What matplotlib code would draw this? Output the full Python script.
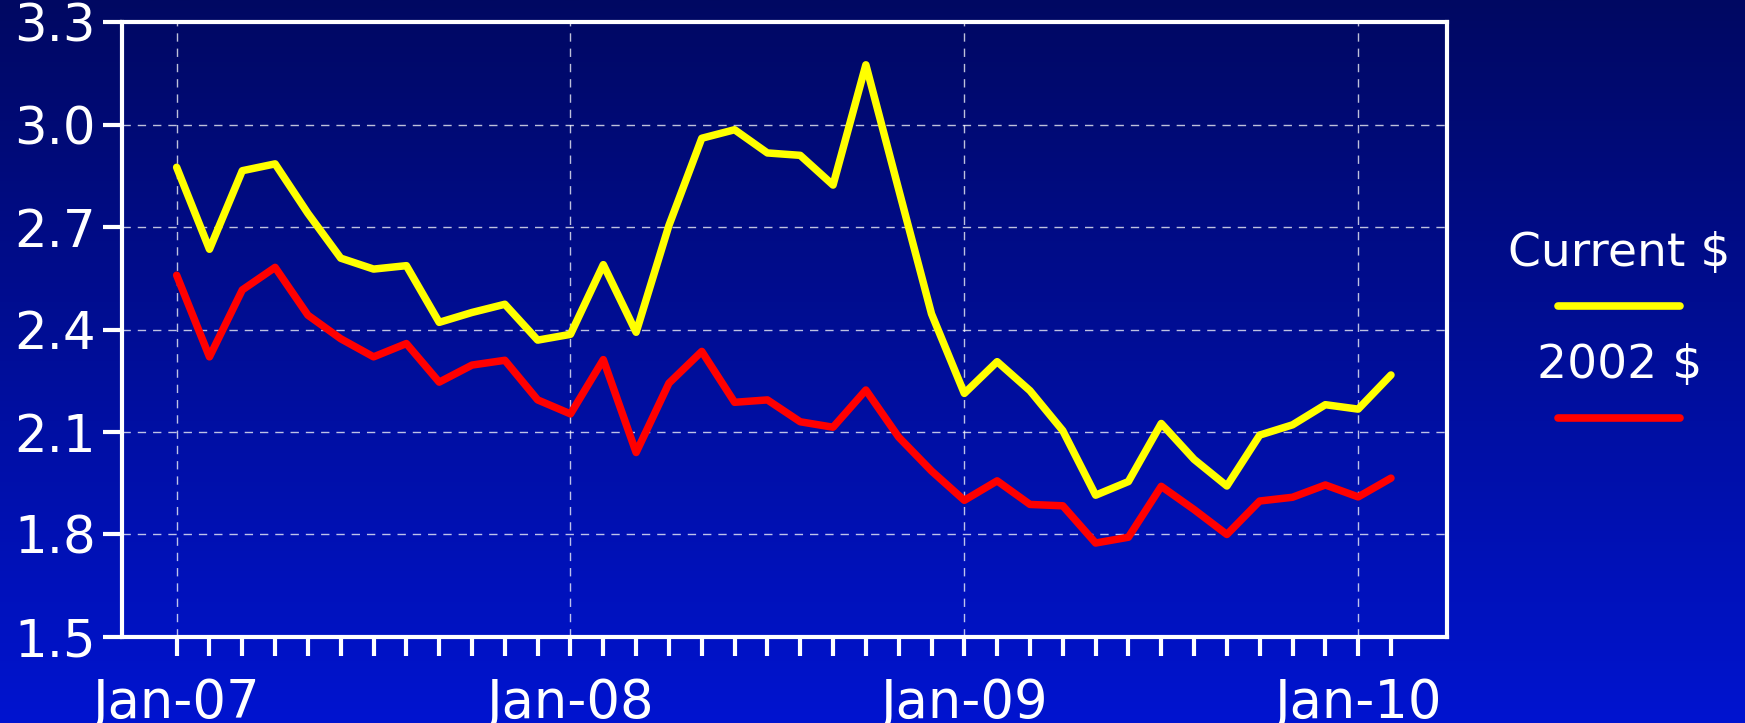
import numpy as np
import matplotlib
matplotlib.use("Agg")
import matplotlib.pyplot as plt
from matplotlib.lines import Line2D

# monthly prices, Jan-07 .. Feb-10
months = list(range(38))
current_usd = [2.875, 2.635, 2.865, 2.885, 2.74, 2.609, 2.577, 2.587, 2.421, 2.45,
               2.474, 2.369, 2.386, 2.59, 2.392, 2.705, 2.96, 2.985, 2.917, 2.91,
               2.823, 3.175, 2.81, 2.446, 2.213, 2.306, 2.221, 2.104, 1.915, 1.955,
               2.125, 2.02, 1.942, 2.091, 2.121, 2.18, 2.167, 2.267]
real_2002_usd = [2.559, 2.32, 2.516, 2.582, 2.442, 2.373, 2.32, 2.359, 2.246, 2.296,
                 2.31, 2.194, 2.153, 2.312, 2.04, 2.243, 2.336, 2.187, 2.194, 2.13,
                 2.114, 2.223, 2.085, 1.986, 1.9, 1.957, 1.888, 1.884, 1.775, 1.792,
                 1.941, 1.873, 1.8, 1.898, 1.909, 1.945, 1.91, 1.965]
year_ticks = [0, 12, 24, 36]
year_labels = ['Jan-07', 'Jan-08', 'Jan-09', 'Jan-10']
y_ticks = [1.5, 1.8, 2.1, 2.4, 2.7, 3.0, 3.3]

plt.rcParams['font.family'] = 'DejaVu Sans'

fig = plt.figure(figsize=(17.45, 7.23), dpi=100)

# background gradient: dark navy at top, bright blue at bottom
bg = fig.add_axes([0, 0, 1, 1], zorder=-10)
top = np.array([0, 8, 98]) / 255
bottom = np.array([0, 20, 208]) / 255
t = np.linspace(0, 1, 256)[:, None]
grad = top[None, :] * (1 - t) + bottom[None, :] * t
bg.imshow(grad[:, None, :], aspect='auto', extent=[0, 1, 0, 1])
bg.axis('off')

ax = fig.add_axes([0.0702, 0.119, 0.7589, 0.8504])
ax.set_facecolor('none')

ax.plot(months, current_usd, color='#FFFF00', lw=5.4, solid_capstyle='round')
ax.plot(months, real_2002_usd, color='#FF0000', lw=5.4, solid_capstyle='round')

ax.set_xlim(-1.65, 38.7)
ax.set_ylim(1.5, 3.3)
ax.set_yticks(y_ticks)
ax.set_yticklabels([f'{v:.1f}' for v in y_ticks])
ax.set_xticks(year_ticks)
ax.set_xticklabels(year_labels)
ax.set_xticks(months, minor=True)

for s in ax.spines.values():
    s.set_color('white')
    s.set_linewidth(3)

ax.tick_params(axis='both', which='both', colors='white', width=3, length=14)
ax.tick_params(axis='y', labelsize=37, pad=5)
ax.tick_params(axis='x', labelsize=38, pad=15)

ax.grid(True, which='major', color='white', alpha=0.75, lw=1, linestyle=(0, (6, 5)))

# legend: label above a line sample
fig.text(0.928, 0.649, 'Current $', color='white', fontsize=34, ha='center', va='center')
fig.add_artist(Line2D([0.893, 0.963], [0.577, 0.577], color='#FFFF00', lw=5.5,
                      solid_capstyle='round', transform=fig.transFigure))
fig.text(0.928, 0.495, '2002 $', color='white', fontsize=34, ha='center', va='center')
fig.add_artist(Line2D([0.893, 0.963], [0.422, 0.422], color='#FF0000', lw=5.5,
                      solid_capstyle='round', transform=fig.transFigure))

fig.savefig('out.png', dpi=100)
